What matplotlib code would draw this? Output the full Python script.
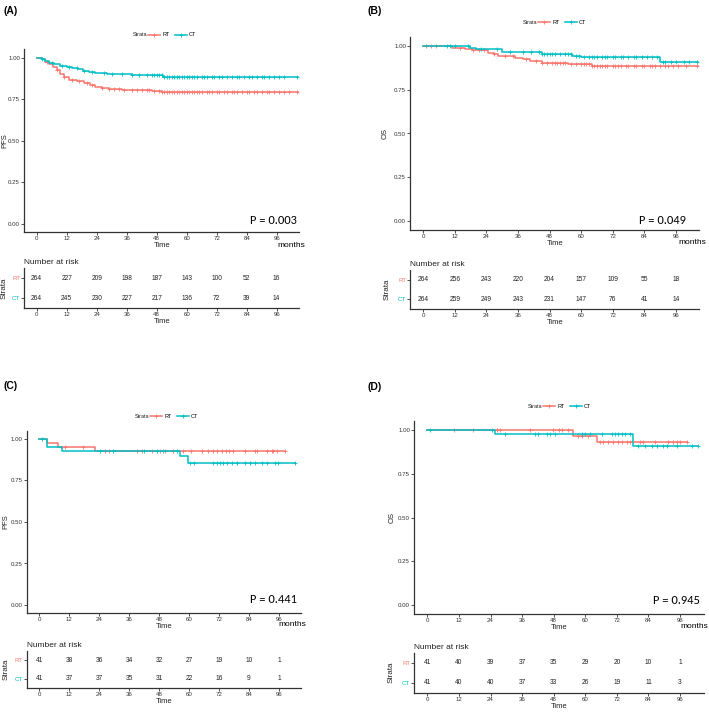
import numpy as np
import matplotlib
matplotlib.use("Agg")
import matplotlib.pyplot as plt
from matplotlib.lines import Line2D

plt.rcParams['font.family'] = ['Liberation Sans', 'DejaVu Sans']

RED = '#F8766D'
TEAL = '#00BFC4'
GREY = '#333333'

W, H = 709, 712

# time ticks / risk table columns
risk_times = [0, 12, 24, 36, 48, 60, 72, 84, 96]

# ---- panel A (PFS, whole cohort)
a_rt_time = [0, 2, 3.5, 5, 6.5, 8, 9.5, 11, 13, 16, 19, 21.5, 23.5, 26, 29, 34, 40, 46, 50, 54, 104.5]
a_rt_surv = [1.0, 0.99, 0.975, 0.96, 0.945, 0.925, 0.905, 0.885, 0.868, 0.858, 0.848, 0.838, 0.826, 0.818,
             0.812, 0.807, 0.803, 0.80, 0.796, 0.792, 0.792]
a_ct_time = [0, 2, 3.5, 5, 7, 9.5, 12, 14, 16.5, 18.5, 21, 23.5, 28, 38, 46, 50.5, 104.5]
a_ct_surv = [1.0, 0.99, 0.98, 0.97, 0.962, 0.953, 0.945, 0.937, 0.93, 0.922, 0.914, 0.906, 0.902, 0.898,
             0.895, 0.886, 0.886]
a_rt_cens = [4, 8, 11, 14, 17, 20, 22, 26, 29, 31, 33, 35, 38, 40, 42, 44, 45, 47, 49, 50, 51, 52, 53, 54,
             55, 56, 57, 58, 59, 60, 61, 62, 63, 64, 65, 66, 68, 69, 70, 72, 73, 75, 76, 78, 79, 80, 82, 84,
             85, 87, 88, 90, 92, 93, 95, 97, 99, 101, 104]
a_ct_cens = [2, 6, 10, 13, 16, 19, 22, 27, 30, 34, 38, 41, 44, 46, 47, 48, 49, 50, 51, 52, 53, 54, 55, 56,
             57, 58, 59, 60, 61, 62, 63, 64, 66, 67, 68, 70, 71, 73, 74, 76, 78, 80, 81, 83, 85, 86, 88, 90,
             91, 93, 95, 97, 99, 104]
a_risk_rt = [264, 227, 209, 198, 187, 143, 100, 52, 16]
a_risk_ct = [264, 245, 230, 227, 217, 136, 72, 39, 14]

# ---- panel B (OS, whole cohort)
b_rt_time = [0, 10.8, 16, 18.4, 24.5, 27, 28.5, 35, 38, 40.5, 45, 55, 64, 104.5]
b_rt_surv = [1.0, 0.99, 0.985, 0.977, 0.962, 0.952, 0.943, 0.933, 0.924, 0.912, 0.905, 0.895, 0.886, 0.886]
b_ct_time = [0, 17.8, 20, 30, 45, 56.4, 60, 90, 104.5]
b_ct_surv = [1.0, 0.99, 0.98, 0.965, 0.952, 0.943, 0.935, 0.909, 0.909]
b_rt_cens = [1, 3, 5, 14, 19, 21, 23, 27, 31, 34, 39, 43, 45, 47, 49, 50, 51, 52, 53, 54, 56, 58, 60, 61,
             62, 63, 64, 65, 66, 67, 68, 69, 70, 72, 73, 74, 75, 77, 78, 80, 81, 83, 84, 86, 87, 88, 90, 92,
             93, 95, 97, 100, 104]
b_ct_cens = [9, 10, 12, 17, 22, 28, 33, 38, 41, 44, 45, 46, 47, 48, 49, 50, 52, 54, 55, 56, 58, 59, 61,
             63, 64, 65, 66, 68, 69, 70, 72, 73, 75, 76, 78, 80, 81, 83, 85, 87, 89, 91, 92, 94, 96, 99,
             101, 104]
b_risk_rt = [264, 256, 243, 220, 204, 157, 109, 55, 18]
b_risk_ct = [264, 259, 249, 243, 231, 147, 76, 41, 14]

# ---- panel C (PFS, subgroup)
c_rt_time = [0, 3, 7.6, 22.5, 98.4]
c_rt_surv = [1.0, 0.976, 0.951, 0.927, 0.927]
c_ct_time = [0, 3, 9, 56.3, 59.7, 102.4]
c_ct_surv = [1.0, 0.951, 0.927, 0.896, 0.854, 0.854]
c_rt_cens = [10.3, 17.4, 26.3, 27.9, 39, 41, 45.3, 48.3, 50.3, 53.7, 57.7, 60.6, 65, 67.7, 69.7, 71, 73,
             74.8, 76.1, 77.7, 82.4, 86.4, 87, 91, 93, 93.7, 95.3, 98.4]
c_ct_cens = [1, 24.3, 29.6, 41.9, 47, 49.7, 55, 60.2, 61.9, 69.7, 71.3, 72.4, 73.4, 75, 77, 79, 82.4,
             84.4, 86.4, 89, 91, 94.3, 95.6, 102.4]
c_risk_rt = [41, 38, 36, 34, 32, 27, 19, 10, 1]
c_risk_ct = [41, 37, 37, 35, 31, 22, 16, 9, 1]

# ---- panel D (OS, subgroup)
d_rt_time = [0, 55.5, 64.3, 98.5]
d_rt_surv = [1.0, 0.966, 0.931, 0.931]
d_ct_time = [0, 25.7, 78, 102.8]
d_ct_surv = [1.0, 0.976, 0.907, 0.907]
d_rt_cens = [10.3, 17.2, 26.3, 27.6, 39, 47.9, 50, 51.1, 53.6, 57.4, 58.7, 61.2, 65.6, 66.9, 68.8, 70.7,
             72.6, 73.9, 75.8, 77, 80.8, 82.1, 86.5, 91.6, 93.5, 94.8, 96, 98.5]
d_ct_cens = [1, 24.5, 29.5, 40.9, 42.2, 45.4, 46.6, 48.5, 58.6, 60, 61.8, 66.3, 70, 71.3, 72.6, 73.9,
             75.1, 77, 80.2, 82.7, 85.3, 87.2, 89.7, 90.9, 94.8, 100.5, 102.9]
d_risk_ct = [41, 40, 40, 37, 33, 26, 19, 11, 3]
d_risk_rt = [41, 40, 39, 37, 35, 29, 20, 10, 1]

p_values = ['P = 0.003', 'P = 0.049', 'P = 0.441', 'P = 0.945']
y_labels = ['PFS', 'OS', 'PFS', 'OS']
tags = ['(A)', '(B)', '(C)', '(D)']


def rect(l, t, r, b):
    return [l / W, 1 - b / H, (r - l) / W, (b - t) / H]


def style(ax):
    for s in ['top', 'right']:
        ax.spines[s].set_visible(False)
    for s in ['left', 'bottom']:
        ax.spines[s].set_color(GREY)
        ax.spines[s].set_linewidth(0.9)
    ax.tick_params(length=2, width=0.6, pad=1, labelsize=4.4, colors=GREY, labelcolor=GREY)


def surv_at(times, surv, t):
    i = np.searchsorted(times, t, side='right') - 1
    return np.array(surv)[i]


fig = plt.figure(figsize=(W / 100, H / 100), dpi=100)

panels = [
    dict(curves=(a_rt_time, a_rt_surv, a_rt_cens, a_ct_time, a_ct_surv, a_ct_cens), risk=(a_risk_rt, a_risk_ct),
         surv_box=(24.2, 49.4, 299.2, 232.3), risk_box=(24.2, 268, 299.2, 308.3),
         tag_xy=(3, 11), leg_xy=(133, 35), pxy=(104, 0.02), months_xy=(277, 245.5), ylab_x=4.5, strata_x=4.5),
    dict(curves=(b_rt_time, b_rt_surv, b_rt_cens, b_ct_time, b_ct_surv, b_ct_cens), risk=(b_risk_rt, b_risk_ct),
         surv_box=(410.2, 37.25, 699.5, 229.75), risk_box=(410.2, 270.3, 699.5, 309),
         tag_xy=(368, 11.5), leg_xy=(523, 22.7), pxy=(100, 0.0), months_xy=(678, 243), ylab_x=385, strata_x=387),
    dict(curves=(c_rt_time, c_rt_surv, c_rt_cens, c_ct_time, c_ct_surv, c_ct_cens), risk=(c_risk_rt, c_risk_ct),
         surv_box=(26.8, 430.7, 301.5, 613.3), risk_box=(26.8, 651.1, 301.5, 687.9),
         tag_xy=(3, 386), leg_xy=(135, 416.7), pxy=(103, 0.034), months_xy=(278, 625), ylab_x=6, strata_x=6),
    dict(curves=(d_rt_time, d_rt_surv, d_rt_cens, d_ct_time, d_ct_surv, d_ct_cens), risk=(d_risk_rt, d_risk_ct),
         surv_box=(414.2, 421.25, 703.7, 613.75), risk_box=(414.2, 652.7, 703.7, 692.7),
         tag_xy=(368, 387), leg_xy=(528, 406.7), pxy=(103.6, 0.025), months_xy=(680, 626), ylab_x=392.3, strata_x=391.5),
]

for k, p in enumerate(panels):
    rt_t, rt_s, rt_c, ct_t, ct_s, ct_c = p['curves']

    ax = fig.add_axes(rect(*p['surv_box']))
    style(ax)
    for tt, ss, cc, col in [(rt_t, rt_s, rt_c, RED), (ct_t, ct_s, ct_c, TEAL)]:
        ax.step(tt, ss, where='post', color=col, lw=1.1)
        ax.plot(cc, surv_at(tt, ss, cc), ls='none', marker='+', color=col, ms=3.2, mew=0.6)
    ax.set_xlim(-5, 105)
    ax.set_ylim(-0.05, 1.05)
    ax.set_xticks(risk_times)
    ax.set_yticks([0, 0.25, 0.5, 0.75, 1.0])
    ax.set_yticklabels(['0.00', '0.25', '0.50', '0.75', '1.00'])
    ax.set_xlabel('Time', fontsize=5.5, labelpad=0.5, color='#222222')
    ax.set_ylabel(y_labels[k], fontsize=5.5, color='#222222', va='center')
    sb = p['surv_box']
    ax.yaxis.set_label_coords((p['ylab_x'] - sb[0]) / (sb[2] - sb[0]), 0.5)
    ax.text(p['pxy'][0], p['pxy'][1], p_values[k], ha='right', va='center', fontsize=9,
            family=['Carlito', 'Liberation Sans', 'DejaVu Sans'])

    fig.text(p['months_xy'][0] / W, 1 - p['months_xy'][1] / H, 'months', fontsize=6, va='center', ha='left')
    fig.text(p['tag_xy'][0] / W, 1 - p['tag_xy'][1] / H, tags[k], fontsize=7.5, fontweight='bold',
             va='center', ha='left')

    # legend: "Strata  -+- RT  -+- CT"
    lx, ly = p['leg_xy']
    fig.text(lx / W, 1 - ly / H, 'Strata', fontsize=4, va='center', ha='left', color='#222222')
    handles = [Line2D([], [], color=RED, lw=1.1, marker='+', ms=3.2, mew=0.6),
               Line2D([], [], color=TEAL, lw=1.1, marker='+', ms=3.2, mew=0.6)]
    fig.legend(handles, ['RT', 'CT'], loc='center left', bbox_to_anchor=((lx + 15) / W, 1 - ly / H),
               ncol=2, frameon=False, fontsize=4, handlelength=2.2, handletextpad=0.4,
               columnspacing=0.9, borderpad=0, borderaxespad=0)

    # risk table
    rk = fig.add_axes(rect(*p['risk_box']))
    style(rk)
    risk_rt, risk_ct = p['risk']
    for xi, v in zip(risk_times, risk_rt):
        rk.text(xi, 2, str(v), ha='center', va='center', fontsize=4.8, color='#222222')
    for xi, v in zip(risk_times, risk_ct):
        rk.text(xi, 1, str(v), ha='center', va='center', fontsize=4.8, color='#222222')
    rk.set_xlim(-5, 105)
    rk.set_ylim(0.5, 2.5)
    rk.set_xticks(risk_times)
    rk.set_yticks([2, 1])
    rk.set_yticklabels(['RT', 'CT'])
    rk.get_yticklabels()[0].set_color(RED)
    rk.get_yticklabels()[1].set_color(TEAL)
    rk.set_xlabel('Time', fontsize=5.5, labelpad=0.5, color='#222222')
    rk.set_title('Number at risk', loc='left', fontsize=6, pad=3, color='#222222')
    rk.set_ylabel('Strata', fontsize=5.8, color='#222222', va='center')
    b = p['risk_box']
    rk.yaxis.set_label_coords((p['strata_x'] - b[0]) / (b[2] - b[0]), 0.5)

fig.savefig('out.png', dpi=100)
